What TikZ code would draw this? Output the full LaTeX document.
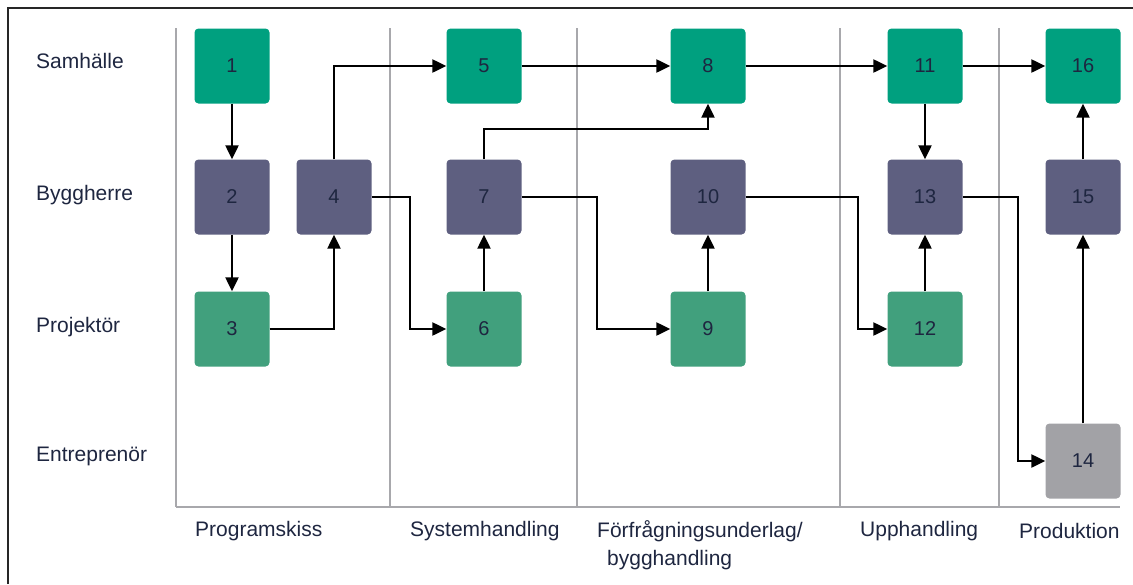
\documentclass[tikz,border=0pt]{standalone}
\usepackage{fontspec}
\setmainfont{Liberation Sans}
\usetikzlibrary{arrows.meta}
\definecolor{samh}{HTML}{00A07F}
\definecolor{bygg}{HTML}{5E5F80}
\definecolor{proj}{HTML}{41A07D}
\definecolor{entr}{HTML}{A2A2A6}
\definecolor{txt}{HTML}{1E2640}
\definecolor{grid}{HTML}{A8A8AC}
\tikzset{
  box/.style={rounded corners=4pt, minimum width=75pt, minimum height=75pt,
    inner sep=0pt, text=txt, font=\fontsize{20}{24}\selectfont},
  samhbox/.style={box, fill=samh},
  byggbox/.style={box, fill=bygg},
  projbox/.style={box, fill=proj},
  entrbox/.style={box, fill=entr},
  lane/.style={anchor=west, inner sep=0pt, text=txt, font=\fontsize{21}{25}\selectfont},
  phase/.style={anchor=west, inner sep=0pt, text=txt, font=\fontsize{21}{25}\selectfont},
  flow/.style={line width=2.3pt, -{Triangle[length=14pt,width=13pt]}},
  sep/.style={line width=2pt, grid}
}
\begin{document}
\begin{tikzpicture}[x=1pt,y=-1pt]
\useasboundingbox (0,0) rectangle (1133,584);
% frame
\draw[line width=2.2pt, black!85] (8,584) -- (8,8) -- (1133,8);
% phase separators
\foreach \x in {176,390,577,840,999}
  \draw[sep] (\x,28) -- (\x,507);
\draw[sep] (176,507) -- (1120,507);
% lanes
\node[lane] (lsam) at (36,61) {Samhälle};
\node[lane] (lbyg) at (36,195) {Byggherre};
\node[lane] (lpro) at (36,327) {Projektör};
\node[lane] (lent) at (36,456) {Entreprenör};
% phases
\node[phase] (pprog) at (195,531) {Programskiss};
\node[phase] (psys) at (410,531) {Systemhandling};
\node[phase] (pfor) at (597,531) {Förfrågningsunderlag/};
\node[phase] (pfor2) at (607,560) {bygghandling};
\node[phase] (pupp) at (860,531) {Upphandling};
\node[phase] (pprod) at (1019,531) {Produktion};
% steps
\node[samhbox] (n1) at (232,66) {1};
\node[byggbox] (n2) at (232,197) {2};
\node[projbox] (n3) at (232,329) {3};
\node[byggbox] (n4) at (334,197) {4};
\node[samhbox] (n5) at (484,66) {5};
\node[projbox] (n6) at (484,329) {6};
\node[byggbox] (n7) at (484,197) {7};
\node[samhbox] (n8) at (708,66) {8};
\node[projbox] (n9) at (708,329) {9};
\node[byggbox] (n10) at (708,197) {10};
\node[samhbox] (n11) at (925,66) {11};
\node[projbox] (n12) at (925,329) {12};
\node[byggbox] (n13) at (925,197) {13};
\node[entrbox] (n14) at (1083,461) {14};
\node[byggbox] (n15) at (1083,197) {15};
\node[samhbox] (n16) at (1083,66) {16};
% connectors
\draw[flow] (n1) -- (n2);
\draw[flow] (n2) -- (n3);
\draw[flow] (n3.east) -| (n4.south);
\draw[flow] (n4.north) |- (n5.west);
\draw[flow] (n4.east) -- ++(38,0) |- (n6.west);
\draw[flow] (n6) -- (n7);
\draw[flow] (n7.north) -- ++(0,-30) -| (n8.south);
\draw[flow] (n5) -- (n8);
\draw[flow] (n7.east) -- ++(75,0) |- (n9.west);
\draw[flow] (n9) -- (n10);
\draw[flow] (n10.east) -- ++(112,0) |- (n12.west);
\draw[flow] (n8) -- (n11);
\draw[flow] (n11) -- (n13);
\draw[flow] (n12) -- (n13);
\draw[flow] (n13.east) -- ++(55,0) |- (n14.west);
\draw[flow] (n14) -- (n15);
\draw[flow] (n15) -- (n16);
\draw[flow] (n11) -- (n16);
\end{tikzpicture}
\end{document}
